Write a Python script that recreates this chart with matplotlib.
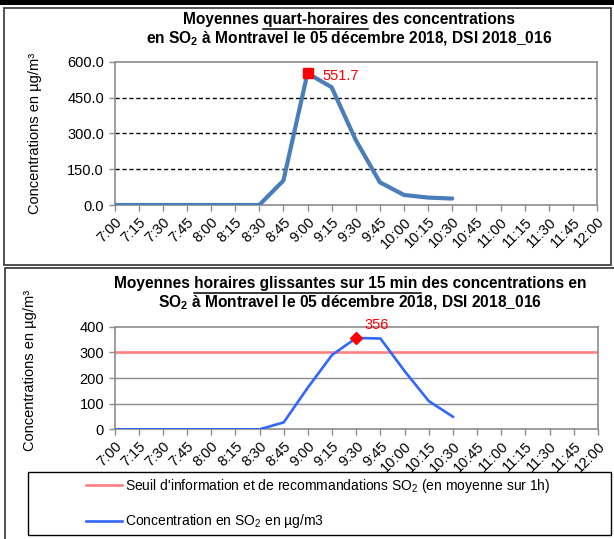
import numpy as np
import matplotlib
matplotlib.use("Agg")
import matplotlib.pyplot as plt
from matplotlib.patches import Rectangle
from matplotlib.lines import Line2D

plt.rcParams['font.family'] = ['Liberation Sans', 'DejaVu Sans']
plt.rcParams['mathtext.fontset'] = 'custom'
plt.rcParams['mathtext.rm'] = 'Liberation Sans'
plt.rcParams['mathtext.it'] = 'Liberation Sans:italic'
plt.rcParams['mathtext.bf'] = 'Liberation Sans:bold'

# time axis, 7:00 -> 12:00 every 15 min
times = ["7:00", "7:15", "7:30", "7:45", "8:00", "8:15", "8:30", "8:45", "9:00",
         "9:15", "9:30", "9:45", "10:00", "10:15", "10:30", "10:45", "11:00",
         "11:15", "11:30", "11:45", "12:00"]

# quarter-hour means (ug/m3)
qh_values = [0, 0, 0, 0, 0, 0, 0, 102, 551.7, 493, 272, 95, 42, 31, 27]
# sliding hourly means
hg_values = [0, 0, 0, 0, 0, 0, 0, 27, 163, 290, 356, 354, 227, 110, 49]
seuil = 300

W, H = 614, 539
fig = plt.figure(figsize=(W / 100, H / 100), dpi=100)


def box(x0, y0, x1, y1):
    # pixel box (top-left origin) -> figure fraction
    return [x0 / W, 1 - y1 / H, (x1 - x0) / W, (y1 - y0) / H]


def px(x, y):
    return x / W, 1 - y / H


# panel frames
fig.patches.append(Rectangle(px(0, 5), 1, 5 / H, transform=fig.transFigure,
                             facecolor='black', edgecolor='none'))
fig.patches.append(Rectangle(px(4, 265), 607 / W, 257 / H, transform=fig.transFigure,
                             facecolor='none', edgecolor='#333333', lw=1.2))
fig.patches.append(Rectangle(px(5, 560), 620 / W, 292 / H, transform=fig.transFigure,
                             facecolor='none', edgecolor='#333333', lw=1.2))

x_all = np.arange(len(times))


def style_axes(ax):
    ax.set_xlim(0, len(times) - 1)
    ax.set_xticks(x_all)
    ax.set_xticklabels(times, rotation=45, ha='right', rotation_mode='anchor',
                       fontsize=10.5)
    for s in ax.spines.values():
        s.set_color('#8c8c8c')
        s.set_linewidth(1.2)
    ax.tick_params(axis='both', colors='#8c8c8c', labelcolor='black', length=4,
                   width=1)
    ax.tick_params(axis='y', labelsize=10.5)
    ax.tick_params(axis='x', pad=3)


def title_with_underline(y1, y2, prefix, seg, rest, line2, xc=350):
    kw = dict(fontsize=11.2, fontweight='bold')
    full = prefix + seg + rest
    t = fig.text(*px(xc, y1), full, ha='center', va='baseline', **kw)
    fig.text(*px(xc, y2), line2, ha='center', va='baseline', **kw)
    r = fig.canvas.get_renderer()
    bb = t.get_window_extent(r)

    def width(s):
        tmp = fig.text(0, 0, s, **kw)
        w = tmp.get_window_extent(r).width
        tmp.remove()
        return w
    x_start = bb.x0 + width(prefix + seg) - width(seg)
    x_end = bb.x0 + width(prefix + seg)
    yl = bb.y0 - 1.5
    fig.add_artist(Line2D([x_start / W, x_end / W], [yl / H, yl / H],
                          transform=fig.transFigure, color='black', lw=1.1))


# ---- top chart: quarter-hour means
ax1 = fig.add_axes(box(114.5, 61.7, 597, 205))
ax1.plot(x_all[:len(qh_values)], qh_values, color='#4a7ebb', lw=3, solid_capstyle='round',
         zorder=3)
imax = int(np.argmax(qh_values))
ax1.plot(x_all[imax], qh_values[imax], 's', color='red', ms=7.5, zorder=4)
ax1.annotate(f"{qh_values[imax]:.1f}", (x_all[imax], qh_values[imax]),
             xytext=(11, -2), textcoords='offset points', color='red',
             fontsize=10.5, va='center', ha='left')
ax1.set_ylim(0, 600)
ax1.set_yticks([0, 150, 300, 450, 600])
ax1.set_yticklabels([f"{v:.1f}" for v in [0, 150, 300, 450, 600]])
for v in [150, 300, 450]:
    ax1.axhline(v, color='black', lw=1, ls=(0, (3, 2)), zorder=1)
style_axes(ax1)
fig.text(*px(35, 133), "Concentrations en µg/m³", rotation=90, ha='center',
         va='center', fontsize=10.5)
title_with_underline(24, 43, "Moyennes ", "quart-horaires", " des concentrations",
                     r"en SO$_\mathbf{2}$ à Montravel le 05 décembre 2018, DSI 2018_016",
                     xc=349)

# ---- bottom chart: sliding hourly means
ax2 = fig.add_axes(box(114.5, 326.7, 598, 429.3))
ax2.set_ylim(0, 400)
ax2.set_yticks([0, 100, 200, 300, 400])
for v in [100, 200]:
    ax2.axhline(v, color='#8c8c8c', lw=1, zorder=1)
l_seuil = ax2.axhline(seuil, color='#ff8080', lw=1.9, zorder=2)
l_conc, = ax2.plot(x_all[:len(hg_values)], hg_values, color='#3366ff', lw=1.9, zorder=3)
jmax = int(np.argmax(hg_values))
ax2.plot(x_all[jmax], hg_values[jmax], 'D', color='red', ms=6, zorder=4)
ax2.annotate(f"{hg_values[jmax]:.0f}", (x_all[jmax], hg_values[jmax]),
             xytext=(6, 9), textcoords='offset points', color='red',
             fontsize=10.5, va='center', ha='left')
style_axes(ax2)
fig.text(*px(30, 370), "Concentrations en µg/m³", rotation=90, ha='center',
         va='center', fontsize=10.5)
title_with_underline(288, 307, "Moyennes ", "horaires glissantes sur 15 min ",
                     "des concentrations en",
                     r"SO$_\mathbf{2}$ à Montravel le 05 décembre 2018, DSI 2018_016",
                     xc=350)

# legend
fig.patches.append(Rectangle(px(28, 535), 583 / W, 63 / H, transform=fig.transFigure,
                             facecolor='white', edgecolor='black', lw=1))
fig.legend([l_seuil, l_conc],
           [r"Seuil d'information et de recommandations SO$_2$ (en moyenne sur 1h)",
            r"Concentration en SO$_2$ en µg/m3"],
           loc='upper left', bbox_to_anchor=px(86, 477), frameon=False,
           fontsize=10, handlelength=2.6, handletextpad=0.2, labelspacing=1.25,
           borderpad=0, borderaxespad=0)

fig.savefig("out.png", dpi=100)
